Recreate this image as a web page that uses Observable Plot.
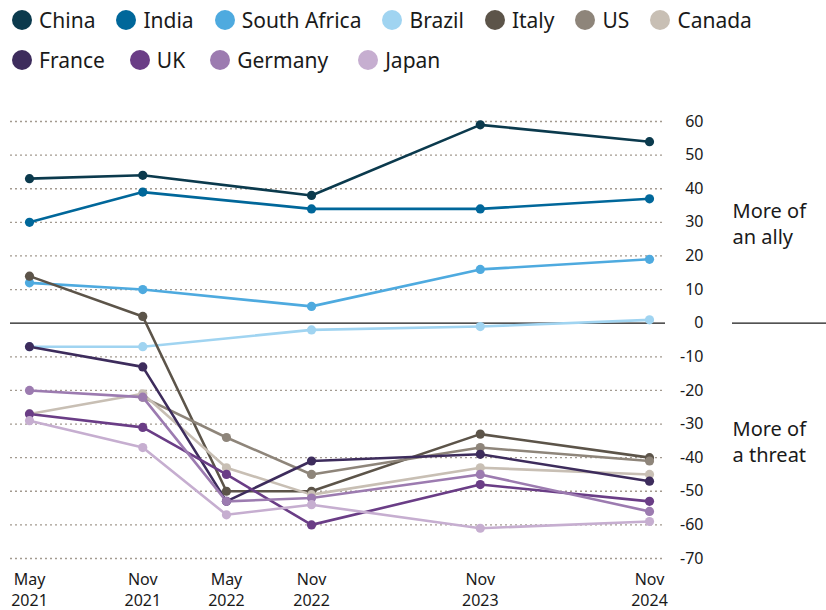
<!DOCTYPE html>
<html>
<head>
<meta charset="utf-8">
<script src="https://cdn.jsdelivr.net/npm/d3@7"></script>
<script src="https://cdn.jsdelivr.net/npm/@observablehq/plot@0.6"></script>
<style>
  html, body { margin: 0; padding: 0; background: #fff; }
  body { width: 826px; height: 610px; overflow: hidden; font-family: "Noto Sans", sans-serif; color: #1a1a1a; }
  #legend { display: flex; flex-wrap: wrap; align-content: flex-start; width: 800px; padding: 6px 0 0 12px; row-gap: 0; column-gap: 0; height: 86px; box-sizing: border-box; }
  .item { display: flex; align-items: center; font-size: 21px; margin-right: 21px; margin-bottom: 12px; height: 28px; line-height: 28px; }
  .sw { width: 20px; height: 20px; border-radius: 50%; margin-right: 7px; }
  #chart svg { display: block; }
</style>
</head>
<body>
<div id="legend"></div>
<div id="chart"></div>
<script>
const countries = ["China","India","South Africa","Brazil","Italy","US","Canada","France","UK","Germany","Japan"];
const colors = ["#0b3a4d","#00679a","#4eaadf","#a0d4f1","#5c5449","#8e857a","#c8bfb4","#3d2c5c","#6a3d86","#9c7bb0","#c6aed0"];
const surveyDates = ["2021-03-01","2021-11-01","2022-05-01","2022-11-01","2023-11-01","2024-11-01"];
const tickLabels = ["May\n2021","Nov\n2021","May\n2022","Nov\n2022","Nov\n2023","Nov\n2024"];
const yTicks = [60,50,40,30,20,10,0,-10,-20,-30,-40,-50,-60,-70];

const China       = [43, 44, null, 38, 59, 54];
const India       = [30, 39, null, 34, 34, 37];
const SouthAfrica = [12, 10, null, 5, 16, 19];
const Brazil      = [-7, -7, null, -2, -1, 1];
const Italy       = [14, 2, -50, -50, -33, -40];
const US          = [null, -22, -34, -45, -37, -41];
const Canada      = [-27, -21, -43, -51, -43, -45];
const France      = [-7, -13, -53, -41, -39, -47];
const UK          = [-27, -31, -45, -60, -48, -53];
const Germany     = [-20, -22, -53, -52, -45, -56];
const Japan       = [-29, -37, -57, -54, -61, -59];

const series = [China, India, SouthAfrica, Brazil, Italy, US, Canada, France, UK, Germany, Japan];
const dates = surveyDates.map(d => new Date(d));

const data = [];
series.forEach((vals, si) => {
  vals.forEach((v, i) => {
    if (v === null) return; // not surveyed: connect neighbouring points
    data.push({country: countries[si], date: dates[i], value: v});
  });
});

// legend
const legend = document.getElementById("legend");
countries.forEach((c, i) => {
  const it = document.createElement("div");
  it.className = "item";
  if (c === "France" || c === "UK") it.style.marginRight = "25px";
  if (c === "Germany") it.style.marginRight = "30px";
  it.innerHTML = `<span class="sw" style="background:${colors[i]}"></span><span>${c}</span>`;
  legend.appendChild(it);
  if (c === "Canada") {
    const br = document.createElement("div");
    br.style.flexBasis = "100%";
    br.style.height = "0";
    legend.appendChild(br);
  }
});

const chart = Plot.plot({
  width: 826,
  height: 524,
  marginTop: 35,
  marginBottom: 52,
  marginLeft: 29,
  marginRight: 177,
  style: {fontFamily: "Noto Sans, sans-serif", fontSize: "16px", color: "#1a1a1a", background: "#fff"},
  x: {type: "utc", domain: [dates[0], dates[dates.length - 1]], axis: null},
  y: {domain: [-70, 60], axis: null},
  color: {domain: countries, range: colors},
  marks: [
    Plot.ruleY(yTicks.filter(d => d !== 0), {stroke: "#a39a90", strokeWidth: 1.3, strokeDasharray: "2,3", insetLeft: -19, insetRight: -16}),
    Plot.ruleY([0], {stroke: "#1a1a1a", strokeWidth: 1.2, insetLeft: -19, insetRight: -16}),
    Plot.ruleY([0], {stroke: "#1a1a1a", strokeWidth: 1.2, insetLeft: 703, insetRight: -177}),
    Plot.text(yTicks, {y: d => d, text: d => String(d), frameAnchor: "right", dx: 54, textAnchor: "end", fontSize: 16, fill: "#1a1a1a"}),
    Plot.text(["More of\nan ally"], {y: 30, frameAnchor: "right", dx: 83, textAnchor: "start", fontSize: 20, lineHeight: 1.3, fill: "#1a1a1a"}),
    Plot.text(["More of\na threat"], {y: -35, frameAnchor: "right", dx: 83, textAnchor: "start", fontSize: 20, lineHeight: 1.3, fill: "#1a1a1a"}),
    Plot.text(dates, {x: d => d, text: (d, i) => tickLabels[i], frameAnchor: "bottom", dy: 12, lineAnchor: "top", fontSize: 16, lineHeight: 1.3, fill: "#1a1a1a"}),
    Plot.line(data, {x: "date", y: "value", z: "country", stroke: "country", strokeWidth: 2.6}),
    Plot.dot(data, {x: "date", y: "value", fill: "country", r: 4.6})
  ]
});
document.getElementById("chart").appendChild(chart);
</script>
</body>
</html>
